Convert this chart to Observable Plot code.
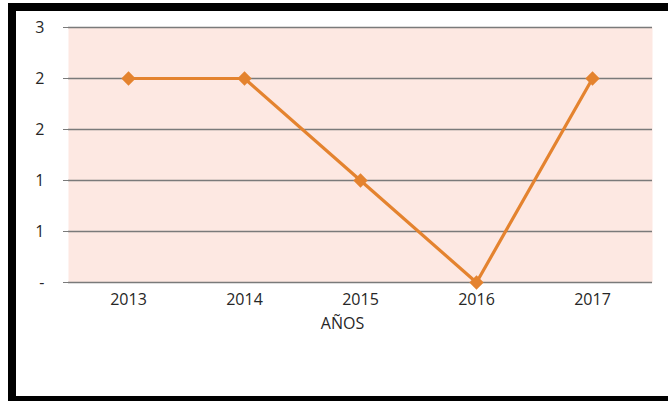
<!DOCTYPE html>
<html>
<head>
<meta charset="utf-8">
<script src="https://cdn.jsdelivr.net/npm/d3@7"></script>
<script src="https://cdn.jsdelivr.net/npm/@observablehq/plot@0.6"></script>
<style>
  html, body { margin: 0; padding: 0; background: #fff; width: 668px; height: 401px; overflow: hidden; }
  #chart { position: absolute; left: 0; top: 0; }
  #frame { position: absolute; left: 8px; top: 3px; width: 700px; height: 385px;
           border-left: 8px solid #000; border-top: 8px solid #000; border-bottom: 5px solid #000; pointer-events: none; }
</style>
</head>
<body>
<div id="chart"></div>
<div id="frame"></div>
<script>
const years = ["2013", "2014", "2015", "2016", "2017"];
const values = [2, 2, 1, 0, 2];
const yTicks = [0, 0.5, 1, 1.5, 2, 2.5];
const yTickLabels = ["-", "1", "1", "2", "2", "3"];
const xTitle = "AÑOS";

const data = years.map((y, i) => ({year: y, value: values[i]}));
const orange = "#e4832f";

const chart = Plot.plot({
  width: 668,
  height: 401,
  marginLeft: 68,
  marginRight: 16,
  marginTop: 27,
  marginBottom: 119,
  style: {fontFamily: "'Open Sans', sans-serif", fontSize: "16px", color: "#262626", background: "transparent"},
  x: {type: "band", domain: years, padding: 0, label: null},
  y: {domain: [0, 2.5], label: null},
  marks: [
    Plot.frame({fill: "#fde8e2", stroke: null}),
    Plot.ruleY(yTicks, {stroke: "#7a7a7a", strokeWidth: 1.3}),
    Plot.axisY({ticks: yTicks, tickFormat: (d) => yTickLabels[yTicks.indexOf(d)], tickSize: 5, tickPadding: 19, stroke: "#7a7a7a", fill: "#262626", fontSize: 16, label: null}),
    Plot.axisX({tickSize: 0, tickPadding: 11, fill: "#262626", fontSize: 16, label: null}),
    Plot.text([xTitle], {frameAnchor: "bottom", dy: 46, dx: -18, fill: "#262626", fontSize: 16}),
    Plot.line(data, {x: "year", y: "value", stroke: orange, strokeWidth: 3.2}),
    Plot.dot(data, {x: "year", y: "value", symbol: "diamond2", r: 5.5, fill: orange, stroke: orange})
  ]
});
document.getElementById("chart").appendChild(chart);
</script>
</body>
</html>
